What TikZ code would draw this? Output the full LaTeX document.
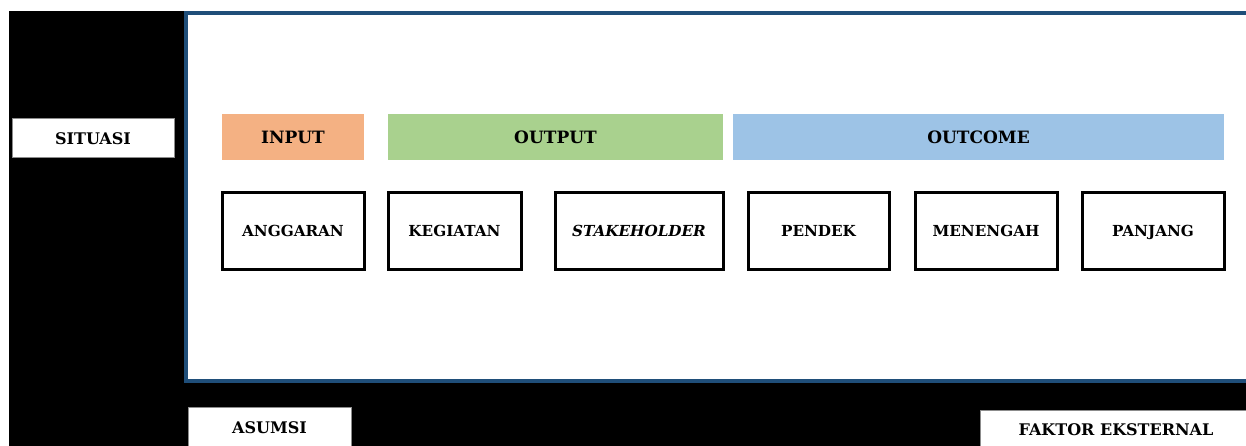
\documentclass[tikz,border=0pt]{standalone}
\usepackage{fontspec}
\setmainfont{DejaVu Serif}
\usepackage{tikz}
\usetikzlibrary{positioning}
\definecolor{inputcol}{HTML}{F4B183}
\definecolor{outputcol}{HTML}{A9D18E}
\definecolor{outcomecol}{HTML}{9DC3E6}
\definecolor{framecol}{HTML}{1F4E79}
\tikzset{
  sidebox/.style={draw=black!45,line width=1pt,fill=white,inner sep=0pt,
    text height=11.7pt,text depth=0pt,
    font=\fontsize{16}{19}\selectfont\bfseries},
  headbox/.style={inner sep=0pt,minimum height=46pt,
    text height=12.4pt,text depth=0pt,
    font=\fontsize{17}{20}\selectfont\bfseries},
  itembox/.style={draw=black,line width=3pt,fill=white,inner sep=0pt,
    text height=11.1pt,text depth=0pt,
    minimum height=76pt,font=\fontsize{15.2}{18}\selectfont\bfseries},
}
\begin{document}
\begin{tikzpicture}[x=1pt,y=-1pt]
  \useasboundingbox (0,0) rectangle (1246,446);
%%
  % Background
  \fill[black] (9,11) rectangle (1246,446);
  \fill[white] (186,13) rectangle (1246,381);
  \draw[framecol,line width=4pt] (1246,13) -- (186,13) -- (186,381) -- (1246,381);
  % Node: SITUASI, ASUMSI, FAKTOR EKSTERNAL
  \node[sidebox,minimum width=162pt,minimum height=39pt] (situasi) at (93,138.5) {SITUASI};
  \node[sidebox,minimum width=163pt,minimum height=42pt] (asumsi) at (269.5,428) {ASUMSI};
  \node[sidebox,minimum width=272pt,minimum height=40pt] (faktor) at (1116,430) {FAKTOR EKSTERNAL};
  % Node: headers
  \node[headbox,fill=inputcol,minimum width=142pt] (input) at (293,137) {INPUT};
  \node[headbox,fill=outputcol,minimum width=335pt] (output) at (555.5,137) {OUTPUT};
  \node[headbox,fill=outcomecol,minimum width=491pt] (outcome) at (978.5,137) {OUTCOME};
  % Node: items
  \node[itembox,minimum width=142pt] (anggaran) at (293,231) {ANGGARAN};
  \node[itembox,minimum width=133pt] (kegiatan) at (454.5,231) {KEGIATAN};
  \node[itembox,minimum width=168pt] (stakeholder) at (639,231) {\itshape STAKEHOLDER};
  \node[itembox,minimum width=141pt] (pendek) at (818.5,231) {PENDEK};
  \node[itembox,minimum width=142pt] (menengah) at (986,231) {MENENGAH};
  \node[itembox,minimum width=142pt] (panjang) at (1153,231) {PANJANG};
%
\end{tikzpicture}
\end{document}
